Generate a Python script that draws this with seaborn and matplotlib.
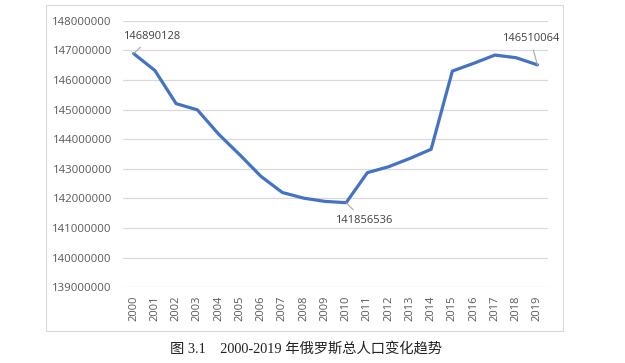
import numpy as np
import pandas as pd
import matplotlib
matplotlib.use('Agg')
import matplotlib.pyplot as plt
import seaborn as sns
from matplotlib.ticker import FuncFormatter, MultipleLocator
from matplotlib.patches import Rectangle

# data
years = [str(y) for y in range(2000, 2020)]
population = [146890128, 146320000, 145200000, 144990000, 144170000,
              143470000, 142740000, 142200000, 142010000, 141900000,
              141856536, 142870000, 143070000, 143350000, 143660000,
              146300000, 146560000, 146840000, 146750000, 146510064]
labelled = {0: (18, 17), 10: (18, -18), 19: (-7, 26)}

sns.set_theme(style='white')
plt.rcParams['font.family'] = ['Open Sans', 'DejaVu Sans']

df = pd.DataFrame({'pos': np.arange(len(years)), 'pop': population})

fig = plt.figure(figsize=(6.25, 3.63), dpi=100)
ax = fig.add_axes([123 / 625, 1 - 287.3 / 363, 425 / 625, 266.6 / 363])

# outer chart frame
fig.patches.append(Rectangle((46 / 625, 1 - 331 / 363), 517 / 625, 326 / 363,
                             transform=fig.transFigure, fill=False,
                             edgecolor='#D9D9D9', linewidth=0.8))

sns.lineplot(data=df, x='pos', y='pop', ax=ax, color='#4472C4', linewidth=2.3)

ax.set_xlim(-0.5, len(years) - 0.5)
ax.set_ylim(139000000, 148000000)
ax.yaxis.set_major_locator(MultipleLocator(1000000))
ax.yaxis.set_major_formatter(FuncFormatter(lambda v, p: '%d' % v))
ax.set_xticks(df['pos'])
ax.set_xticklabels(years, rotation=90)
ax.grid(axis='y', color='#D9D9D9', linewidth=0.9)
ax.set_axisbelow(True)
for s in ax.spines.values():
    s.set_visible(False)
ax.tick_params(axis='y', length=0, pad=8, labelsize=8.2, labelcolor='#595959')
ax.tick_params(axis='x', length=0, pad=6, labelsize=8, labelcolor='#595959')
ax.set_xlabel('')
ax.set_ylabel('')

for i, (dx, dy) in labelled.items():
    ax.annotate(str(population[i]), xy=(i, population[i]), xytext=(dx, dy),
                textcoords='offset pixels', ha='center', va='center',
                fontsize=8, color='#404040',
                arrowprops=dict(arrowstyle='-', color='#A6A6A6', lw=0.8,
                                shrinkA=2, shrinkB=0))

fig.text(306 / 625, 1 - 350 / 363, '图 3.1    2000-2019 年俄罗斯总人口变化趋势',
         ha='center', va='center', fontsize=10.3, color='#222222',
         family=['Liberation Serif', 'Noto Sans CJK SC'])

fig.savefig('out.png', dpi=100, facecolor='white')
